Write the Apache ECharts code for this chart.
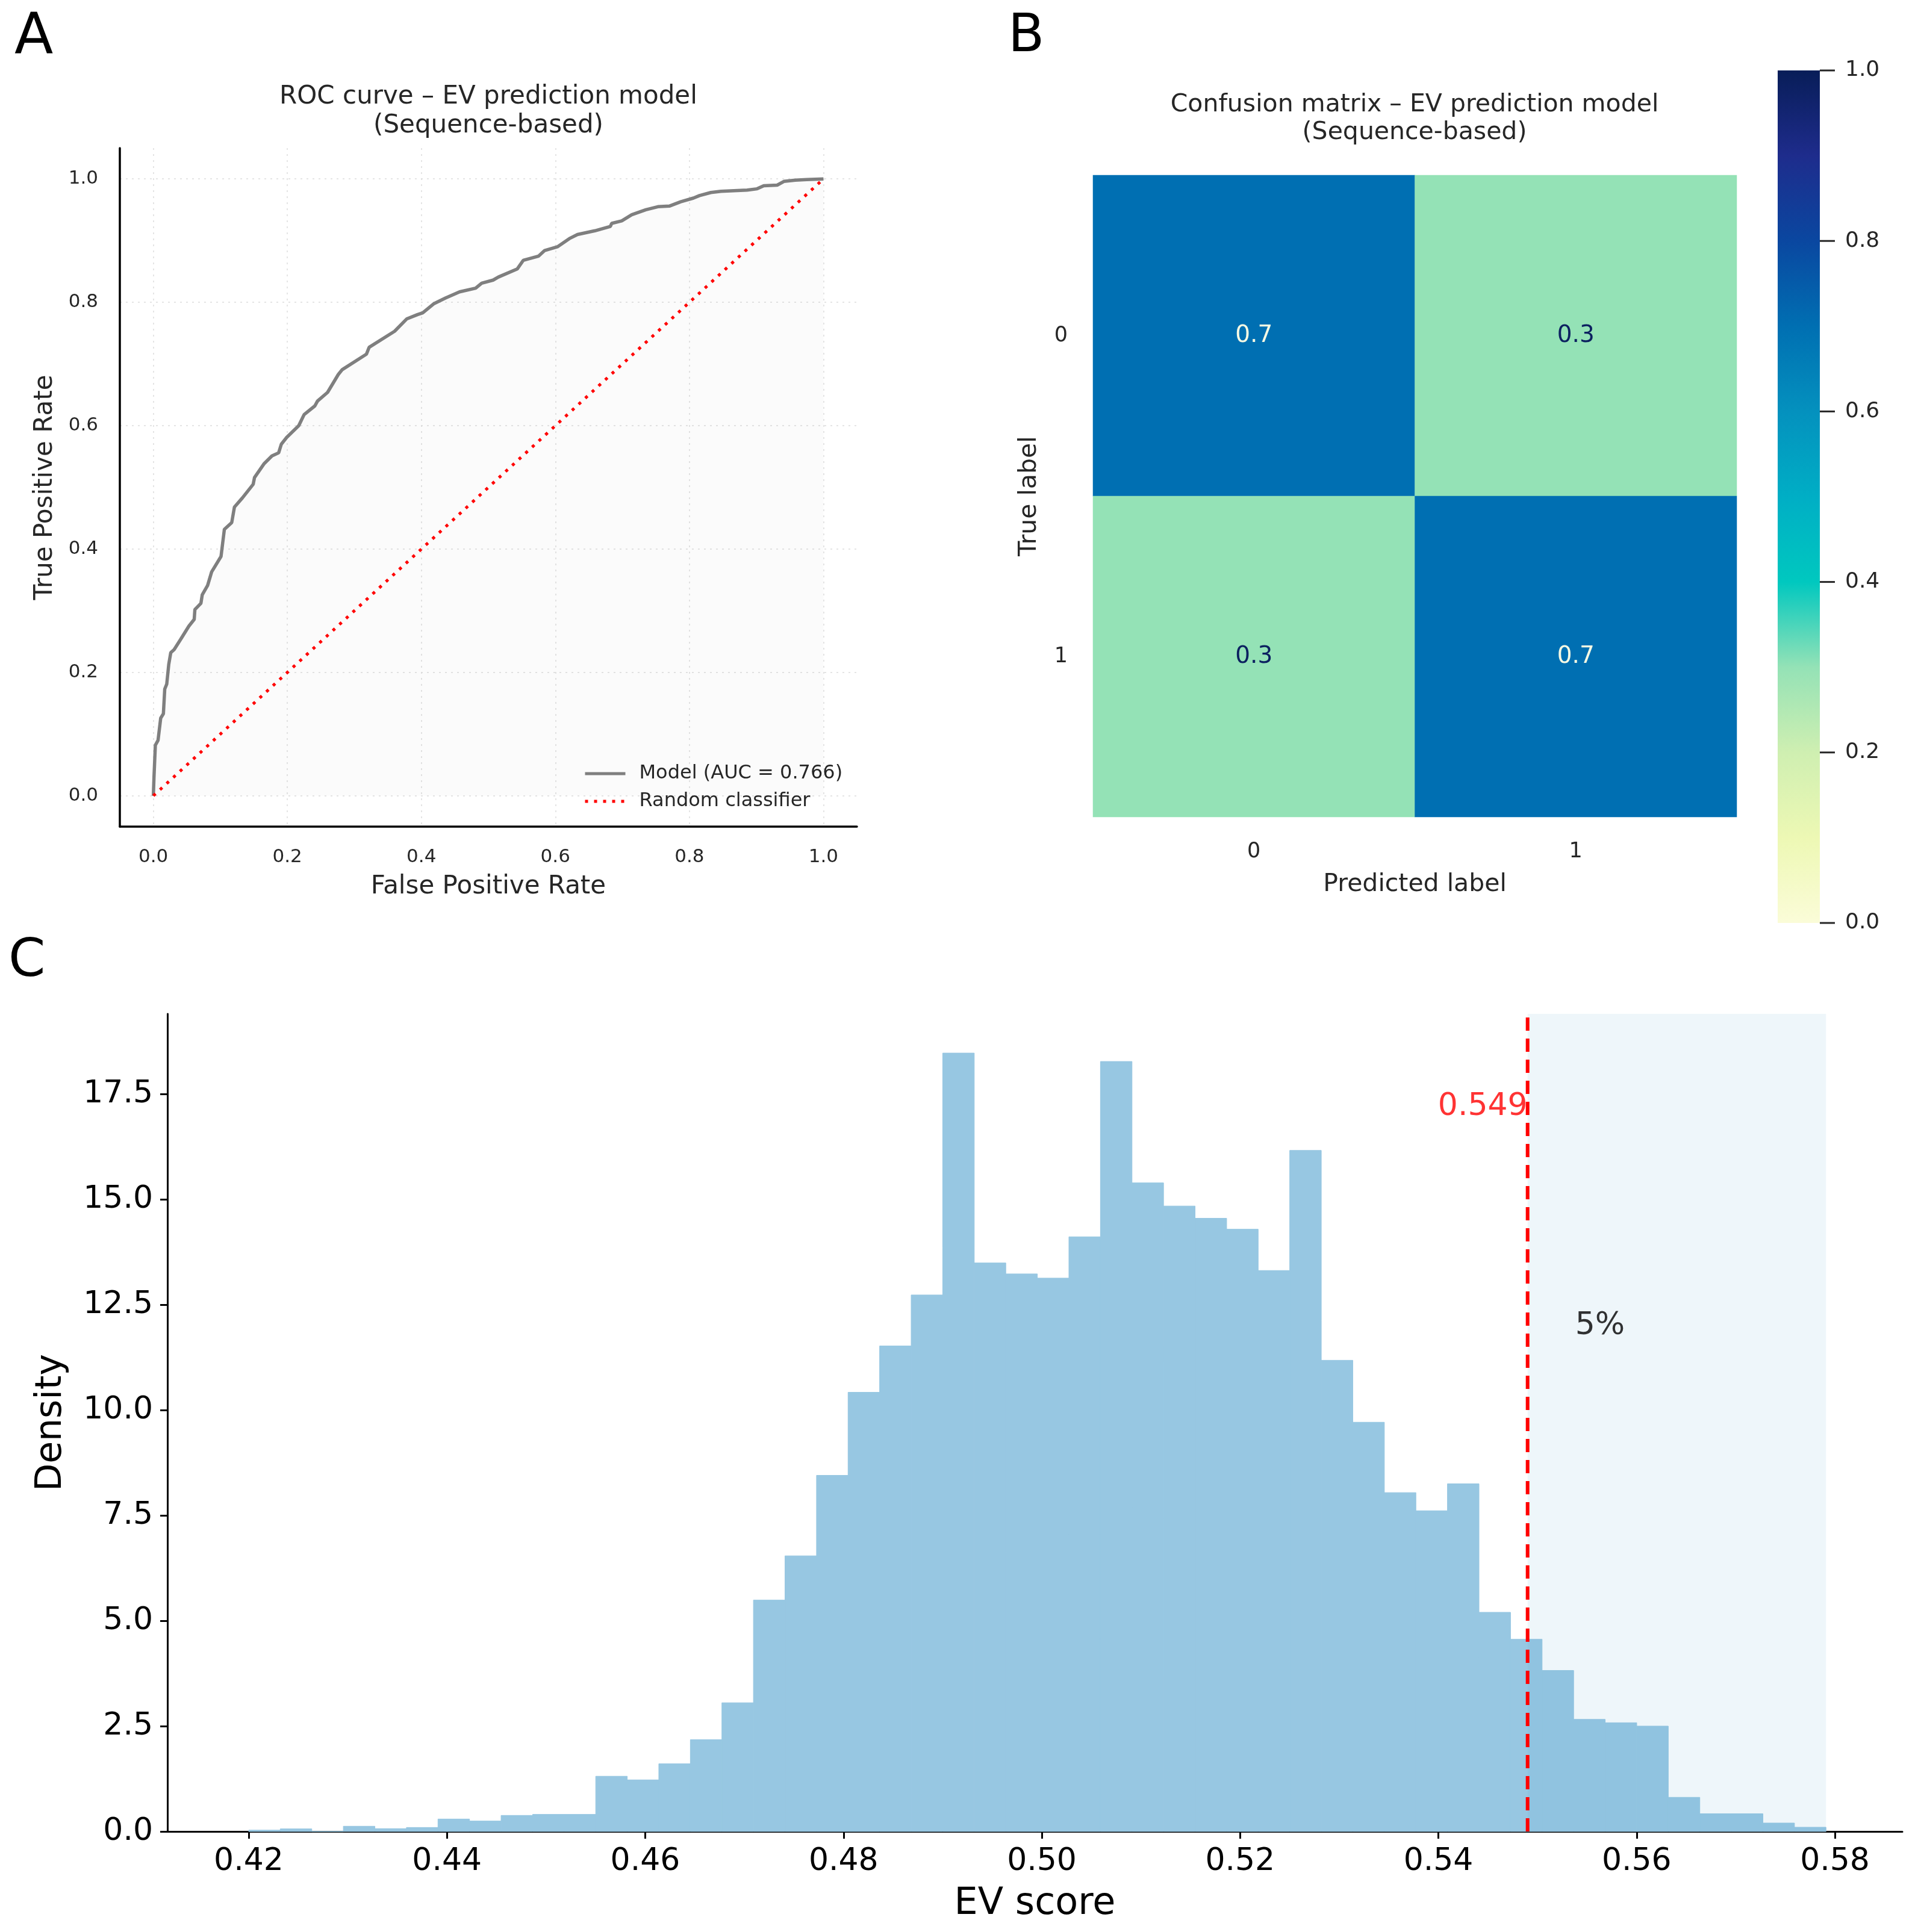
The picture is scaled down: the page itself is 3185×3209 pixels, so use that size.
<!DOCTYPE html>
<html>
<head>
<meta charset="utf-8">
<title>EV prediction model</title>
<script src="https://cdn.jsdelivr.net/npm/echarts@6.0.0/dist/echarts.min.js"></script>
<style>
  html, body { margin: 0; padding: 0; background: #fff; }
  #chart { width: 3185px; height: 3209px; }
</style>
</head>
<body>
<div id="chart"></div>
<script>
// ---- A: ROC curve ----
const rocFpr = [0, 0.001, 0.003, 0.007, 0.011, 0.015, 0.017, 0.020, 0.023, 0.026,
  0.031, 0.041, 0.053, 0.061, 0.062, 0.071, 0.073, 0.081, 0.087, 0.101,
  0.106, 0.117, 0.121, 0.133, 0.149, 0.151, 0.165, 0.177, 0.187, 0.191,
  0.199, 0.217, 0.225, 0.241, 0.245, 0.260, 0.276, 0.282, 0.318, 0.322,
  0.360, 0.378, 0.394, 0.402, 0.419, 0.436, 0.457, 0.481, 0.490, 0.507,
  0.515, 0.543, 0.552, 0.575, 0.584, 0.603, 0.622, 0.633, 0.659, 0.682,
  0.684, 0.699, 0.714, 0.735, 0.753, 0.770, 0.787, 0.806, 0.815, 0.832,
  0.847, 0.886, 0.901, 0.911, 0.931, 0.941, 0.958, 0.975, 1.0];
const rocTpr = [0, 0.031, 0.082, 0.090, 0.126, 0.133, 0.173, 0.181, 0.213, 0.232,
  0.237, 0.254, 0.275, 0.286, 0.302, 0.312, 0.326, 0.341, 0.363, 0.388,
  0.432, 0.443, 0.468, 0.483, 0.505, 0.516, 0.538, 0.551, 0.556, 0.570,
  0.581, 0.600, 0.618, 0.632, 0.640, 0.654, 0.683, 0.691, 0.716, 0.727,
  0.753, 0.773, 0.780, 0.783, 0.798, 0.807, 0.817, 0.823, 0.831, 0.836,
  0.841, 0.854, 0.868, 0.875, 0.884, 0.890, 0.904, 0.910, 0.916, 0.923,
  0.928, 0.932, 0.942, 0.950, 0.955, 0.956, 0.963, 0.969, 0.973, 0.978,
  0.980, 0.982, 0.984, 0.989, 0.990, 0.996, 0.998, 0.999, 1.0];
const randomLine = [[0, 0], [1, 1]];
const rocTicks = [0, 0.2, 0.4, 0.6, 0.8, 1.0];
const modelName = 'Model (AUC = 0.766)';
const randomName = 'Random classifier';

// ---- B: confusion matrix ----
const cmLabels = ['0', '1'];
const cmValues = [[0.7, 0.3], [0.3, 0.7]]; // rows = true label, cols = predicted
const cbTicks = [0, 0.2, 0.4, 0.6, 0.8, 1.0];
// colour map, evenly spaced from 0.0 to 1.0
const cmapColors = ['#fbfcd8', '#edf8b4', '#cfefb1', '#94e2b6', '#00c8bf',
  '#00aec5', '#0491be', '#006fb2', '#0a47a0', '#1e2c8c', '#081d58'];

// ---- C: EV score histogram ----
const binStart = 0.4200;
const binWidth = 0.003182;
const density = [0.031, 0.062, 0, 0.124, 0.067, 0.095, 0.295, 0.248, 0.381, 0.405,
  0.405, 1.31, 1.224, 1.606, 2.177, 3.054, 5.49, 6.54, 8.45, 10.42,
  11.52, 12.73, 18.47, 13.49, 13.23, 13.13, 14.11, 18.27, 15.39, 14.84,
  14.55, 14.29, 13.31, 16.16, 11.18, 9.71, 8.04, 7.61, 8.25, 5.20,
  4.56, 3.82, 2.66, 2.58, 2.50, 0.81, 0.42, 0.42, 0.20, 0.10];
const evTicks = [0.42, 0.44, 0.46, 0.48, 0.50, 0.52, 0.54, 0.56, 0.58];
const densTicks = [0, 2.5, 5, 7.5, 10, 12.5, 15, 17.5];
const densMax = 19.4;
const threshold = 0.549;
const thresholdLabelY = 17.2;
const pctLabel = '5%';
const pctLabelPos = [0.5538, 12];

const chart = echarts.init(document.getElementById('chart'));
const FONT = 'DejaVu Sans';
const DARK = '#262626';
const BAR = 'rgb(151,199,226)';

const rocData = rocFpr.map((x, i) => [x, rocTpr[i]]);
const heatData = [];
cmValues.forEach((row, r) => row.forEach((v, c) => {
  heatData.push({
    value: [c, r, v],
    label: { color: v > 0.5 ? '#f5f9e4' : '#0c2160' }
  });
}));
const histData = density.map((d, i) => [binStart + i * binWidth, binStart + (i + 1) * binWidth, d]);
const histEnd = binStart + density.length * binWidth;

const gradStops = cmapColors.map((c, i) => ({ offset: i / (cmapColors.length - 1), color: c }));

const axisFont = (size, color) => ({ fontFamily: FONT, fontSize: size, color: color });

// rectangle between two data corners, through the axes' scales
const rectItem = (api, a, b, style) => {
  const p0 = api.coord(a);
  const p1 = api.coord(b);
  return {
    type: 'rect',
    shape: { x: p0[0], y: p0[1], width: p1[0] - p0[0], height: p1[1] - p0[1] },
    style: style
  };
};

chart.setOption({
  backgroundColor: '#ffffff',
  animation: false,
  textStyle: { fontFamily: FONT },
  title: [
    { text: 'A', left: 24, top: 18, padding: 0, textStyle: { fontSize: 94, fontWeight: 'normal', color: '#000', fontFamily: FONT } },
    { text: 'B', left: 1674, top: 18, padding: 0, textStyle: { fontSize: 88, fontWeight: 'normal', color: '#000', fontFamily: FONT } },
    { text: 'C', left: 14, top: 1554, padding: 0, textStyle: { fontSize: 88, fontWeight: 'normal', color: '#000', fontFamily: FONT } },
    { text: 'ROC curve – EV prediction model\n(Sequence-based)', left: 811, top: 137, padding: 0, textAlign: 'center',
      textStyle: { fontSize: 42, fontWeight: 'normal', color: DARK, lineHeight: 48, fontFamily: FONT } },
    { text: 'Confusion matrix – EV prediction model\n(Sequence-based)', left: 2349, top: 151, padding: 0, textAlign: 'center',
      textStyle: { fontSize: 41, fontWeight: 'normal', color: DARK, lineHeight: 46, fontFamily: FONT } }
  ],
  legend: {
    data: [modelName, randomName],
    orient: 'vertical',
    left: 964,
    top: 1264,
    itemWidth: 67,
    itemHeight: 14,
    itemGap: 14,
    itemStyle: { opacity: 0 },
    lineStyle: { width: 5 },
    textStyle: { fontFamily: FONT, fontSize: 32, color: DARK, lineHeight: 32, padding: [0, 0, 0, 18] }
  },
  grid: [
    { left: 199, top: 246, width: 1224, height: 1127 },
    { left: 1815, top: 291, width: 1069, height: 1066 },
    { left: 278, top: 1684, width: 2881, height: 1358 },
    { left: 2952, top: 117, width: 70, height: 1416 }
  ],
  xAxis: [
    {
      gridIndex: 0, type: 'value', min: -0.05, max: 1.05,
      name: 'False Positive Rate', nameLocation: 'middle', nameGap: 79,
      nameTextStyle: axisFont(42, DARK),
      axisLine: { show: true, onZero: false, lineStyle: { color: '#000', width: 3.5 } },
      axisTick: { show: false, customValues: rocTicks },
      axisLabel: { customValues: rocTicks, margin: 35, formatter: v => v.toFixed(1), ...axisFont(31, DARK) },
      splitLine: { show: true, lineStyle: { color: '#dddddd', width: 1.5, type: [3, 7] } }
    },
    {
      gridIndex: 1, type: 'category', data: cmLabels,
      name: 'Predicted label', nameLocation: 'middle', nameGap: 92,
      nameTextStyle: axisFont(41, DARK),
      axisLine: { show: false }, axisTick: { show: false },
      axisLabel: { margin: 40, ...axisFont(35, DARK) },
      splitLine: { show: false }
    },
    {
      gridIndex: 2, type: 'value', min: 0.4118, max: 0.5868,
      name: 'EV score', nameLocation: 'middle', nameGap: 90,
      nameTextStyle: axisFont(62, '#000'),
      axisLine: { show: true, onZero: false, lineStyle: { color: '#000', width: 3 } },
      axisTick: { show: true, customValues: evTicks, length: 12, lineStyle: { color: '#000', width: 3 } },
      axisLabel: { customValues: evTicks, margin: 24, formatter: v => v.toFixed(2), ...axisFont(52, '#000') },
      splitLine: { show: false }
    },
    {
      gridIndex: 3, type: 'value', min: 0, max: 1, show: false
    }
  ],
  yAxis: [
    {
      gridIndex: 0, type: 'value', min: -0.05, max: 1.05,
      name: 'True Positive Rate', nameLocation: 'middle', nameGap: 103,
      nameTextStyle: axisFont(42, DARK),
      axisLine: { show: true, onZero: false, lineStyle: { color: '#000', width: 3.5 } },
      axisTick: { show: false, customValues: rocTicks },
      axisLabel: { customValues: rocTicks, margin: 36, formatter: v => v.toFixed(1), ...axisFont(31, DARK) },
      splitLine: { show: true, lineStyle: { color: '#dddddd', width: 1.5, type: [3, 7] } }
    },
    {
      gridIndex: 1, type: 'category', data: cmLabels, inverse: true,
      name: 'True label', nameLocation: 'middle', nameGap: 85,
      nameTextStyle: axisFont(41, DARK),
      axisLine: { show: false }, axisTick: { show: false },
      axisLabel: { margin: 42, ...axisFont(35, DARK) },
      splitLine: { show: false }
    },
    {
      gridIndex: 2, type: 'value', min: 0, max: densMax,
      name: 'Density', nameLocation: 'middle', nameGap: 163,
      nameTextStyle: axisFont(60, '#000'),
      axisLine: { show: true, lineStyle: { color: '#000', width: 3 } },
      axisTick: { show: true, customValues: densTicks, length: 12, lineStyle: { color: '#000', width: 3 } },
      axisLabel: { customValues: densTicks, margin: 24, formatter: v => v.toFixed(1), ...axisFont(52, '#000') },
      splitLine: { show: false }
    },
    {
      gridIndex: 3, type: 'value', min: 0, max: 1, position: 'right',
      axisLine: { show: false, onZero: false },
      axisTick: { show: false },
      axisLabel: { customValues: cbTicks, margin: 42, formatter: v => v.toFixed(1), ...axisFont(36, DARK) },
      splitLine: { show: false }
    }
  ],
  visualMap: {
    show: false,
    type: 'continuous',
    seriesIndex: 2,
    min: 0,
    max: 1,
    inRange: { color: cmapColors }
  },
  series: [
    {
      name: modelName, type: 'line', xAxisIndex: 0, yAxisIndex: 0,
      data: rocData, symbol: 'none', smooth: false,
      lineStyle: { color: '#7f7f7f', width: 5.5 },
      itemStyle: { color: '#7f7f7f' },
      areaStyle: { color: 'rgba(128,128,128,0.05)' },
      z: 3
    },
    {
      name: randomName, type: 'line', xAxisIndex: 0, yAxisIndex: 0,
      data: randomLine, symbol: 'none',
      lineStyle: { color: '#ff0000', width: 5, type: [5, 10] },
      itemStyle: { color: '#ff0000' },
      z: 4
    },
    {
      name: 'Confusion matrix', type: 'heatmap', xAxisIndex: 1, yAxisIndex: 1,
      data: heatData,
      label: { show: true, fontFamily: FONT, fontSize: 39, formatter: p => p.value[2].toFixed(1) }
    },
    {
      name: 'Colorbar', type: 'custom', xAxisIndex: 3, yAxisIndex: 3,
      data: [[0, 0, 1, 1]],
      renderItem: (params, api) => rectItem(api, [api.value(0), api.value(3)], [api.value(2), api.value(1)],
        { fill: new echarts.graphic.LinearGradient(0, 1, 0, 0, gradStops) })
    },
    {
      // colorbar tick marks on the right edge of the bar
      name: 'Colorbar ticks', type: 'custom', xAxisIndex: 3, yAxisIndex: 3,
      data: cbTicks.map(v => [1, v]),
      renderItem: (params, api) => {
        const p = api.coord([api.value(0), api.value(1)]);
        return {
          type: 'line',
          shape: { x1: p[0], y1: p[1], x2: p[0] + 25, y2: p[1] },
          style: { stroke: DARK, lineWidth: 3 }
        };
      },
      clip: false
    },
    {
      name: 'EV score histogram', type: 'custom', xAxisIndex: 2, yAxisIndex: 2,
      data: histData,
      encode: { x: [0, 1], y: 2 },
      renderItem: (params, api) => rectItem(api, [api.value(0), api.value(2)], [api.value(1), 0],
        { fill: BAR, stroke: BAR, lineWidth: 1 }),
      z: 2
    },
    {
      name: 'Top 5%', type: 'custom', xAxisIndex: 2, yAxisIndex: 2,
      data: [[threshold, histEnd]],
      renderItem: (params, api) => rectItem(api, [api.value(0), densMax], [api.value(1), 0],
        { fill: 'rgba(85,165,205,0.1)' }),
      z: 3
    },
    {
      name: 'Threshold', type: 'line', xAxisIndex: 2, yAxisIndex: 2,
      data: [[threshold, 0], [threshold, densMax]],
      symbol: 'none',
      lineStyle: { color: '#ff0000', width: 6, type: [22, 13] },
      z: 4
    },
    {
      name: 'Threshold labels', type: 'scatter', xAxisIndex: 2, yAxisIndex: 2,
      symbolSize: 0,
      data: [
        { value: [threshold, thresholdLabelY], label: { formatter: threshold.toFixed(3), position: 'left', color: '#ff0000' } },
        { value: pctLabelPos, label: { formatter: pctLabel, position: 'right', color: '#000' } }
      ],
      label: { show: true, distance: 0, fontFamily: FONT, fontSize: 52 },
      z: 5
    }
  ]
});
</script>
</body>
</html>
